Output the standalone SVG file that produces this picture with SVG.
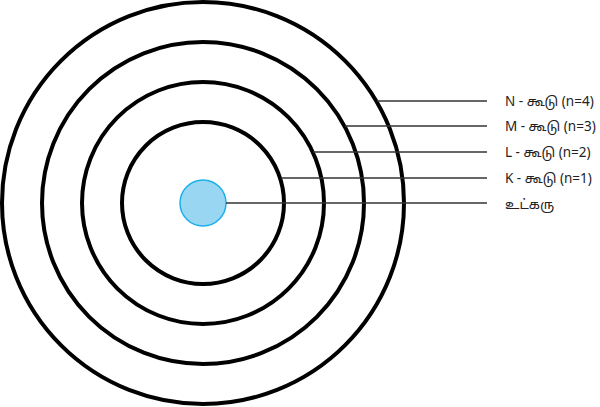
<svg xmlns="http://www.w3.org/2000/svg" width="600" height="407" viewBox="0 0 600 407">
<style>
.shell{fill:none;stroke:#000;stroke-width:4}
.lead{stroke:#333;stroke-width:1.4;fill:none}
.lbl{font-family:"Noto Sans","Noto Sans Tamil","DejaVu Sans",sans-serif;font-size:13.5px;fill:#222}
</style>
<rect width="600" height="407" fill="#fff"/>
<g id="shell-N"><circle class="shell" cx="203" cy="203" r="201"/></g>
<g id="shell-M"><circle class="shell" cx="203" cy="203" r="161"/></g>
<g id="shell-L"><circle class="shell" cx="203" cy="203" r="121"/></g>
<g id="shell-K"><circle class="shell" cx="203" cy="203" r="81"/></g>
<g id="nucleus"><circle cx="203" cy="203" r="23" fill="#99d6f1" stroke="#1ab0ea" stroke-width="1.5"/></g>
<g id="connectors">
<line class="lead" x1="377" y1="101" x2="487" y2="101"/>
<line class="lead" x1="345" y1="126" x2="487" y2="126"/>
<line class="lead" x1="313" y1="152" x2="487" y2="152"/>
<line class="lead" x1="281" y1="178" x2="487" y2="178"/>
<line class="lead" x1="226" y1="203" x2="487" y2="203"/>
</g>
<g id="labels">
<text class="lbl" x="505" y="106">N - கூடு (n=4)</text>
<text class="lbl" x="505" y="131">M - கூடு (n=3)</text>
<text class="lbl" x="505" y="157">L - கூடு (n=2)</text>
<text class="lbl" x="505" y="183">K - கூடு (n=1)</text>
<text class="lbl" x="505" y="209">உட்கரு</text>
</g>
</svg>
